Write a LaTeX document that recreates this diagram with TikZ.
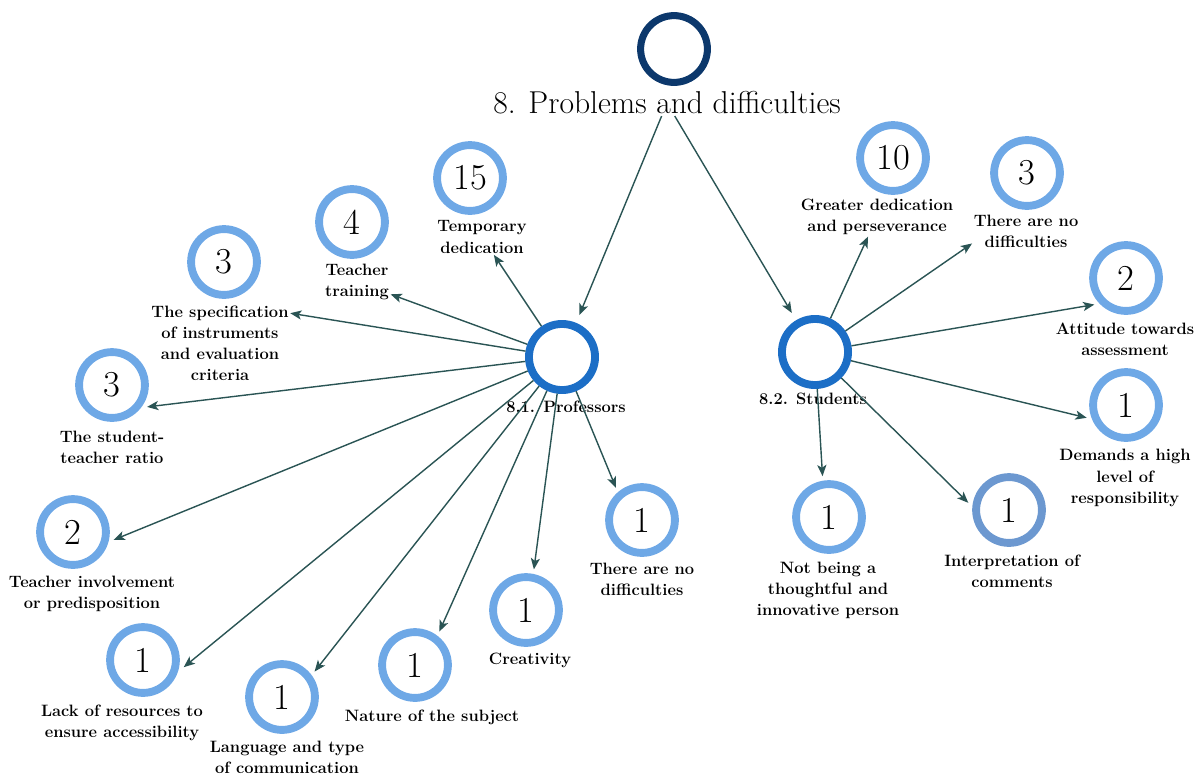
\documentclass[tikz,border=0pt]{standalone}
\usepackage{fontspec}
\definecolor{ringblue}{RGB}{110,168,230}
\definecolor{ringgrey}{RGB}{108,152,208}
\definecolor{midblue}{RGB}{28,110,198}
\definecolor{navy1}{RGB}{12,56,108}
\definecolor{arrowteal}{RGB}{42,84,84}
\usetikzlibrary{arrows.meta, positioning}

\begin{document}
\begin{tikzpicture}[x=0.025cm, y=-0.025cm,
  count/.style={circle, draw=ringblue, line width=5.6pt, minimum size=46.8pt, inner sep=0pt, outer sep=6pt, font=\fontsize{26}{28}\selectfont},
  lbl/.style={align=center, inner sep=1pt, font=\bfseries\fontsize{11.7}{15}\selectfont},
  hub/.style={circle, draw=midblue, line width=5.6pt, minimum size=47pt, inner sep=0pt, outer sep=2.8pt},
  link/.style={draw=arrowteal, line width=1pt, -{Stealth[length=8pt, width=6.5pt, inset=2pt]}}
]
  \useasboundingbox (0,0) rectangle (1200,777);

  \node[circle, draw=navy1, line width=5pt, minimum size=47.5pt, inner sep=0pt] (root) at (674,49) {};
  \node[font=\fontsize{22.5}{24}\selectfont, inner sep=1pt] (rootl) at (667,103) {8. Problems and difficulties};

  \node[hub] (prof) at (562,357) {};
  \node[lbl] (profl) at (566,407) {8.1. Professors};
  \node[hub] (stud) at (815,352) {};
  \node[lbl] (studl) at (813,399) {8.2. Students};

  % professors
  \node[count] (tmp) at (470,178) {15};
  \node[lbl] (tmpl) at (482,237) {Temporary\\dedication};
  \node[count] (trn) at (352,222) {4};
  \node[lbl] (trnl) at (357,282) {Teacher\\training};
  \node[count] (spec) at (224,262) {3};
  \node[lbl] (specl) at (220,343) {The specification\\of instruments\\and evaluation\\criteria};
  \node[count] (ratio) at (112,385) {3};
  \node[lbl] (ratiol) at (112,447) {The student-\\teacher ratio};
  \node[count] (inv) at (73,532) {2};
  \node[lbl] (invl) at (92,594) {Teacher involvement\\or predisposition};
  \node[count] (res) at (143,660) {1};
  \node[lbl] (resl) at (122,723) {Lack of resources to\\ensure accessibility};
  \node[count] (lang) at (282,697) {1};
  \node[lbl] (langl) at (287,757) {Language and type\\of communication};
  \node[count] (subj) at (415,665) {1};
  \node[lbl] (subjl) at (432,717) {Nature of the subject};
  \node[count] (crea) at (526,610) {1};
  \node[lbl] (creal) at (530,660) {Creativity};
  \node[count] (nodp) at (642,520) {1};
  \node[lbl] (nodpl) at (642,579) {There are no\\difficulties};

  % students
  \node[count] (ded) at (893,158) {10};
  \node[lbl] (dedl) at (877,217) {Greater dedication\\and perseverance};
  \node[count] (nods) at (1027,173) {3};
  \node[lbl] (nodsl) at (1026,231) {There are no\\difficulties};
  \node[count] (att) at (1126,278) {2};
  \node[lbl] (attl) at (1125,339) {Attitude towards\\assessment};
  \node[count] (dem) at (1126,405) {1};
  \node[lbl] (deml) at (1125,478) {Demands a high\\level of\\responsibility};
  \node[count, draw=ringgrey] (intp) at (1009,510) {1};
  \node[lbl] (intpl) at (1012,571) {Interpretation of\\comments};
  \node[count] (inno) at (829,517) {1};
  \node[lbl] (innol) at (828,590) {Not being a\\thoughtful and\\innovative person};

  \draw[link, shorten >=6pt] (rootl) -- (prof);
  \draw[link, shorten >=6pt] (rootl) -- (stud);

  \draw[link] (prof) -- (tmpl);
  \draw[link] (prof) -- (trnl);
  \draw[link] (prof) -- (specl.23);
  \draw[link] (prof) -- (ratio.-32);
  \draw[link] (prof) -- (inv.-11);
  \draw[link] (prof) -- (res.-10);
  \draw[link] (prof) -- (lang.38);
  \draw[link] (prof) -- (subj.54);
  \draw[link] (prof) -- (crea.79);
  \draw[link] (prof) -- (nodp.129);

  \draw[link] (stud) -- (dedl);
  \draw[link] (stud) -- (nodsl.193);
  \draw[link] (stud) -- (att.220);
  \draw[link] (stud) -- (dem.198);
  \draw[link] (stud) -- (intp.170);
  \draw[link] (stud) -- (inno.99);
\end{tikzpicture}
\end{document}
